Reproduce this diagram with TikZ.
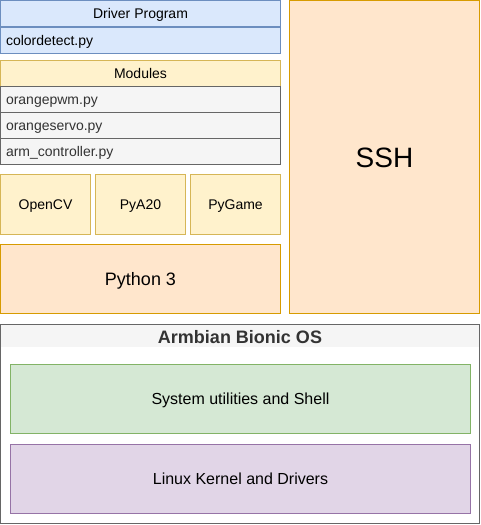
\documentclass[tikz,border=0pt]{standalone}
\usepackage{fontspec}
\setmainfont{Liberation Sans}
\definecolor{blueF}{HTML}{DAE8FC}\definecolor{blueS}{HTML}{6C8EBF}
\definecolor{yelF}{HTML}{FFF2CC}\definecolor{yelS}{HTML}{D6B656}
\definecolor{grayF}{HTML}{F5F5F5}\definecolor{grayS}{HTML}{666666}
\definecolor{txtG}{HTML}{333333}
\definecolor{orF}{HTML}{FFE6CC}\definecolor{orS}{HTML}{D79B00}
\definecolor{grF}{HTML}{D5E8D4}\definecolor{grS}{HTML}{82B366}
\definecolor{puF}{HTML}{E1D5E7}\definecolor{puS}{HTML}{9673A6}
\tikzset{
  fs14/.style={font=\fontsize{14}{16}\selectfont, text height=10pt, text depth=0pt},
  fs16/.style={font=\fontsize{16}{18}\selectfont, text height=11.5pt, text depth=0pt},
  fs18/.style={font=\fontsize{18}{20}\selectfont, text height=12.9pt, text depth=0pt},
  fs28/.style={font=\fontsize{28}{30}\selectfont, text height=20pt, text depth=0pt},
  box/.style={draw, rectangle, line width=1pt, inner sep=0pt, align=center, fs14},
  rowbox/.style={draw, rectangle, line width=1pt, inner xsep=5.5pt, inner ysep=0pt, text width=269pt, minimum height=26pt, align=left, fs14},
  bluebox/.style={fill=blueF, draw=blueS},
  yelbox/.style={fill=yelF, draw=yelS},
  graybox/.style={fill=grayF, draw=grayS, text=txtG},
  orbox/.style={fill=orF, draw=orS},
}
\begin{document}
\begin{tikzpicture}[x=1pt, y=-1pt]
\useasboundingbox (0,0) rectangle (481,525);
% Driver program
\node[box, bluebox, minimum width=280pt, minimum height=26pt] (drvh) at (140.5,13.5) {Driver Program};
\node[rowbox, bluebox] (drvr) at (140.5,40) {colordetect.py};
% Modules
\node[box, yelbox, minimum width=280pt, minimum height=26pt] (modh) at (140.5,73) {Modules};
\node[rowbox, graybox] (m1) at (140.5,99) {orangepwm.py};
\node[rowbox, graybox] (m2) at (140.5,125) {orangeservo.py};
\node[rowbox, graybox] (m3) at (140.5,151) {arm\_controller.py};
% libraries
\node[box, yelbox, minimum width=90pt, minimum height=60pt] (cv) at (45.5,204.5) {OpenCV};
\node[box, yelbox, minimum width=90pt, minimum height=60pt] (pya) at (140.5,204.5) {PyA20};
\node[box, yelbox, minimum width=90pt, minimum height=60pt] (pyg) at (235.5,204.5) {PyGame};
% Python
\node[box, orbox, minimum width=280pt, minimum height=69pt, fs18] (py) at (140.5,279) {Python 3};
% SSH
\node[box, orbox, minimum width=190pt, minimum height=313pt, fs28] (ssh) at (384.5,157) {SSH};
% Armbian
\node[box, draw=grayS, fill=white, minimum width=479pt, minimum height=199pt,
  path picture={\fill[grayF] (path picture bounding box.north west) rectangle ([yshift=-22.5pt]path picture bounding box.north east);}] (arm) at (240,424) {};
\node[font=\bfseries\fontsize{18}{20}\selectfont, text=txtG, inner sep=0pt] (armt) at (240,337) {Armbian Bionic OS};
\node[box, fill=grF, draw=grS, minimum width=460pt, minimum height=69pt, fs16] (sys) at (240.5,399) {System utilities and Shell};
\node[box, fill=puF, draw=puS, minimum width=460pt, minimum height=69pt, fs16] (kern) at (240.5,479) {Linux Kernel and Drivers};
\end{tikzpicture}
\end{document}
